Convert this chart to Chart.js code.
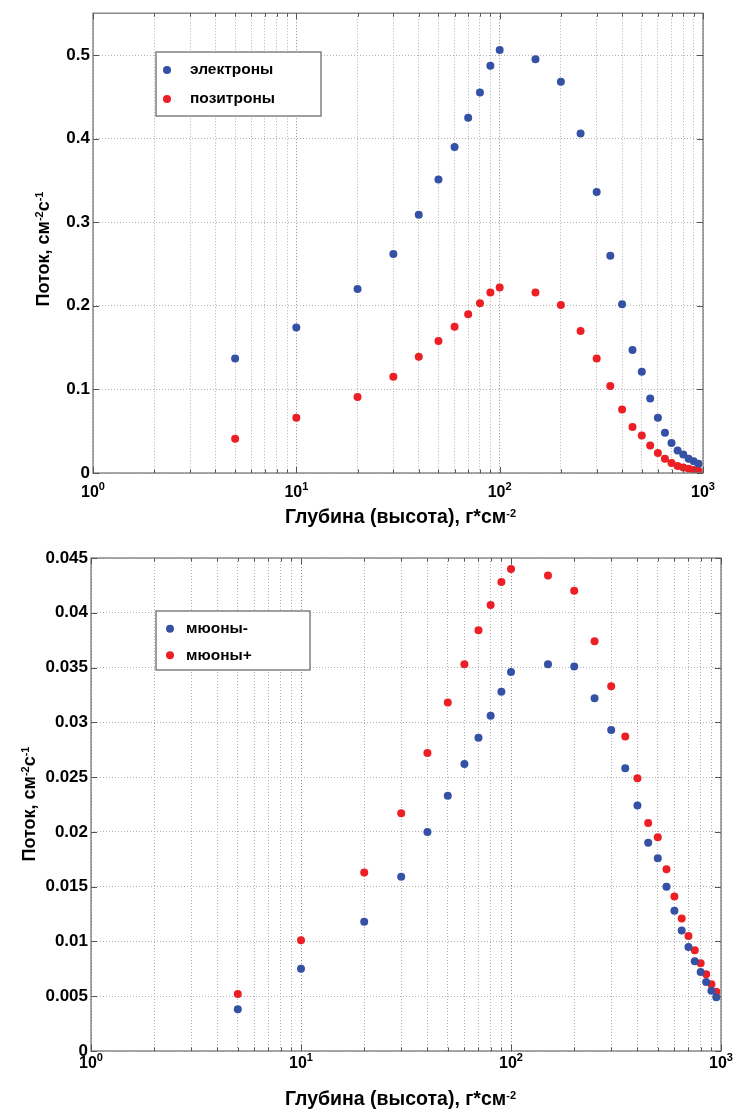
<!DOCTYPE html>
<html><head><meta charset="utf-8">
<script src="https://cdn.jsdelivr.net/npm/chart.js@4.4.0/dist/chart.umd.min.js"></script>
<style>
html,body{margin:0;padding:0;background:#fff;}
#wrap{position:relative;width:737px;height:1113px;background:#fff;}
canvas{position:absolute;left:0;}
</style></head><body>
<div id="wrap">
<canvas id="c1" width="737" height="540" style="top:0px"></canvas>
<canvas id="c2" width="737" height="573" style="top:540px"></canvas>
</div>
<script>
// ---------- data ----------
const depth = [5,10,20,30,40,50,60,70,80,90,100,150,200,250,300,350,400,450,500,550,600,650,700,750,800,850,900,950];
const electrons = [0.137,0.174,0.220,0.262,0.309,0.351,0.390,0.425,0.455,0.487,0.506,0.495,0.468,0.406,0.336,0.260,0.202,0.147,0.121,0.089,0.066,0.048,0.036,0.027,0.022,0.017,0.014,0.011];
const positrons = [0.041,0.066,0.091,0.115,0.139,0.158,0.175,0.190,0.203,0.216,0.222,0.216,0.201,0.170,0.137,0.104,0.076,0.055,0.045,0.033,0.024,0.017,0.012,0.0085,0.0065,0.005,0.0037,0.0028];
const muonsMinus = [0.0038,0.0075,0.0118,0.0159,0.0200,0.0233,0.0262,0.0286,0.0306,0.0328,0.0346,0.0353,0.0351,0.0322,0.0293,0.0258,0.0224,0.0190,0.0176,0.0150,0.0128,0.0110,0.0095,0.0082,0.0072,0.0063,0.0055,0.0049];
const muonsPlus = [0.0052,0.0101,0.0163,0.0217,0.0272,0.0318,0.0353,0.0384,0.0407,0.0428,0.0440,0.0434,0.0420,0.0374,0.0333,0.0287,0.0249,0.0208,0.0195,0.0166,0.0141,0.0121,0.0105,0.0092,0.0080,0.0070,0.0061,0.0054];

const xTickValues = [1,2,3,4,5,6,7,8,9,10,20,30,40,50,60,70,80,90,100,200,300,400,500,600,700,800,900,1000];
const xLabelValues = [1,10,100,1000];
const xLabelBase = ['10','10','10','10'];
const xLabelExp = ['0','1','2','3'];
const yTicksTop = [0,0.1,0.2,0.3,0.4,0.5];
const yTickLabelsTop = ['0','0.1','0.2','0.3','0.4','0.5'];
const yTicksBottom = [0,0.005,0.01,0.015,0.02,0.025,0.03,0.035,0.04,0.045];
const yTickLabelsBottom = ['0','0.005','0.01','0.015','0.02','0.025','0.03','0.035','0.04','0.045'];
const labelsTop = ['электроны','позитроны'];
const labelsBottom = ['мюоны-','мюоны+'];
const yTitleParts = [['Поток, см',0],['-2',1],['с',0],['-1',1]];
const xTitleParts = [['Глубина (высота), г*см',0],['-2',1]];

// ---------- style ----------
const FAM = "'Liberation Sans', Arial, Helvetica, sans-serif";
const BLUE = '#3451a6';
const RED = '#ec1f25';
const GRID_MINOR = '#b2b2b2';
const GRID_MAJOR = '#8c8c8c';
const FRAME = '#7a7a7a';

function richWidth(ctx, parts, size, supSize){
  let w = 0;
  for (const [t, sup] of parts){ ctx.font = `bold ${sup?supSize:size}px ${FAM}`; w += ctx.measureText(t).width; }
  return w;
}
function drawRich(ctx, parts, x, y, size, supSize, raise){
  for (const [t, sup] of parts){
    ctx.font = `bold ${sup?supSize:size}px ${FAM}`;
    ctx.fillText(t, x, sup ? y - raise : y);
    x += ctx.measureText(t).width;
  }
}
const isPow10 = v => [1,10,100,1000].includes(v);

const deco = {
  id: 'deco',
  afterDraw(chart, args, o){
    const ctx = chart.ctx, a = chart.chartArea, xs = chart.scales.x, ys = chart.scales.y;
    ctx.save();
    // frame
    ctx.strokeStyle = FRAME; ctx.lineWidth = 1.3; ctx.setLineDash([]);
    ctx.strokeRect(a.left, a.top, a.right - a.left, a.bottom - a.top);
    // inward ticks
    ctx.strokeStyle = '#555'; ctx.lineWidth = 1;
    ctx.beginPath();
    for (const t of xs.ticks){
      const px = Math.round(xs.getPixelForValue(t.value)) + 0.5;
      const len = isPow10(t.value) ? 6 : 3.5;
      ctx.moveTo(px, a.bottom); ctx.lineTo(px, a.bottom - len);
      ctx.moveTo(px, a.top); ctx.lineTo(px, a.top + len);
    }
    for (const t of ys.ticks){
      const py = Math.round(ys.getPixelForValue(t.value)) + 0.5;
      ctx.moveTo(a.left, py); ctx.lineTo(a.left + 6, py);
      ctx.moveTo(a.right, py); ctx.lineTo(a.right - 6, py);
    }
    ctx.stroke();
    // x tick labels 10^n
    ctx.fillStyle = '#000'; ctx.textAlign = 'left'; ctx.textBaseline = 'alphabetic';
    xLabelValues.forEach((v, i) => {
      const parts = [[xLabelBase[i],0],[xLabelExp[i],1]];
      const w = richWidth(ctx, parts, 16, 11);
      const px = xs.getPixelForValue(v);
      drawRich(ctx, parts, px - w/2, o.xTickBaseline, 16, 11, 7);
    });
    // x title
    const xw = richWidth(ctx, xTitleParts, o.xTitleSize, 11);
    drawRich(ctx, xTitleParts, o.xTitle.cx - xw/2, o.xTitle.baseline, o.xTitleSize, 11, 6.5);
    // y title (rotated)
    const yw = richWidth(ctx, yTitleParts, o.yTitleSize, 11);
    ctx.save();
    ctx.translate(o.yTitle.baselineX, o.yTitle.cy);
    ctx.rotate(-Math.PI/2);
    drawRich(ctx, yTitleParts, -yw/2, 0, o.yTitleSize, 11, 6);
    ctx.restore();
    // legend box
    const L = o.legend;
    ctx.fillStyle = '#fff';
    ctx.fillRect(L.x, L.y, L.w, L.h);
    ctx.strokeStyle = '#808080'; ctx.lineWidth = 1.5;
    ctx.strokeRect(L.x, L.y, L.w, L.h);
    chart.data.datasets.forEach((ds, i) => {
      const cy = L.rows[i];
      ctx.fillStyle = ds.backgroundColor;
      ctx.beginPath(); ctx.arc(L.markerX, cy, 4, 0, Math.PI*2); ctx.fill();
      ctx.fillStyle = '#000';
      ctx.font = `bold ${L.font}px ${FAM}`;
      ctx.textBaseline = 'middle';
      ctx.fillText(ds.label, L.textX, cy);
      ctx.textBaseline = 'alphabetic';
    });
    ctx.restore();
  }
};

function makeChart(id, cfg){
  const ds = (label, vals, color) => ({
    label, data: depth.map((d, i) => ({x: d, y: vals[i]})),
    backgroundColor: color, borderColor: color,
    pointRadius: 4, pointBorderWidth: 0, pointHoverRadius: 4, showLine: false
  });
  return new Chart(document.getElementById(id), {
    type: 'scatter',
    data: { datasets: [ds(cfg.labels[0], cfg.s1, BLUE), ds(cfg.labels[1], cfg.s2, RED)] },
    options: {
      responsive: false, animation: false, events: [], devicePixelRatio: 1,
      layout: { padding: { left: 0, right: cfg.padRight, top: cfg.padTop, bottom: 0 } },
      plugins: { legend: { display: false }, tooltip: { enabled: false }, deco: cfg.deco },
      scales: {
        x: {
          type: 'logarithmic', min: 1, max: 1000,
          afterBuildTicks: s => { s.ticks = xTickValues.map(v => ({ value: v })); },
          afterFit: s => { s.height = cfg.xAxisH; },
          ticks: { display: false, autoSkip: false },
          grid: { drawTicks: false, lineWidth: 1, color: c => (c.tick && isPow10(c.tick.value)) ? GRID_MAJOR : GRID_MINOR },
          border: { display: false, dash: [1, 2] }
        },
        y: {
          type: 'linear', min: 0, max: cfg.yMax,
          afterBuildTicks: s => { s.ticks = cfg.yTicks.map(v => ({ value: v })); },
          afterFit: s => { s.width = cfg.yAxisW; },
          ticks: { autoSkip: false, padding: 3, color: '#000',
                   font: { family: FAM, weight: 'bold', size: 17 },
                   callback: (v, i) => cfg.yLabels[i] },
          grid: { drawTicks: false, lineWidth: 1, color: GRID_MINOR },
          border: { display: false, dash: [1, 2] }
        }
      }
    },
    plugins: [deco]
  });
}

makeChart('c1', {
  labels: labelsTop, s1: electrons, s2: positrons,
  yMax: 0.55, yTicks: yTicksTop, yLabels: yTickLabelsTop,
  padRight: 34, padTop: 10, xAxisH: 67, yAxisW: 93,
  deco: {
    xTitleSize: 19.5, yTitleSize: 18, xTickBaseline: 497,
    xTitle: { cx: 400.5, baseline: 523 },
    yTitle: { baselineX: 48.5, cy: 249 },
    legend: { x: 156, y: 52, w: 165, h: 64, rows: [70, 99], markerX: 167, textX: 190, font: 15.5 }
  }
});
makeChart('c2', {
  labels: labelsBottom, s1: muonsMinus, s2: muonsPlus,
  yMax: 0.045, yTicks: yTicksBottom, yLabels: yTickLabelsBottom,
  padRight: 16, padTop: 18, xAxisH: 62, yAxisW: 91,
  deco: {
    xTitleSize: 19.5, yTitleSize: 18, xTickBaseline: 528,
    xTitle: { cx: 400.5, baseline: 565 },
    yTitle: { baselineX: 35, cy: 264 },
    legend: { x: 156, y: 71, w: 154, h: 59, rows: [88.7, 115.3], markerX: 170, textX: 186, font: 15.5 }
  }
});
</script>
</body></html>
